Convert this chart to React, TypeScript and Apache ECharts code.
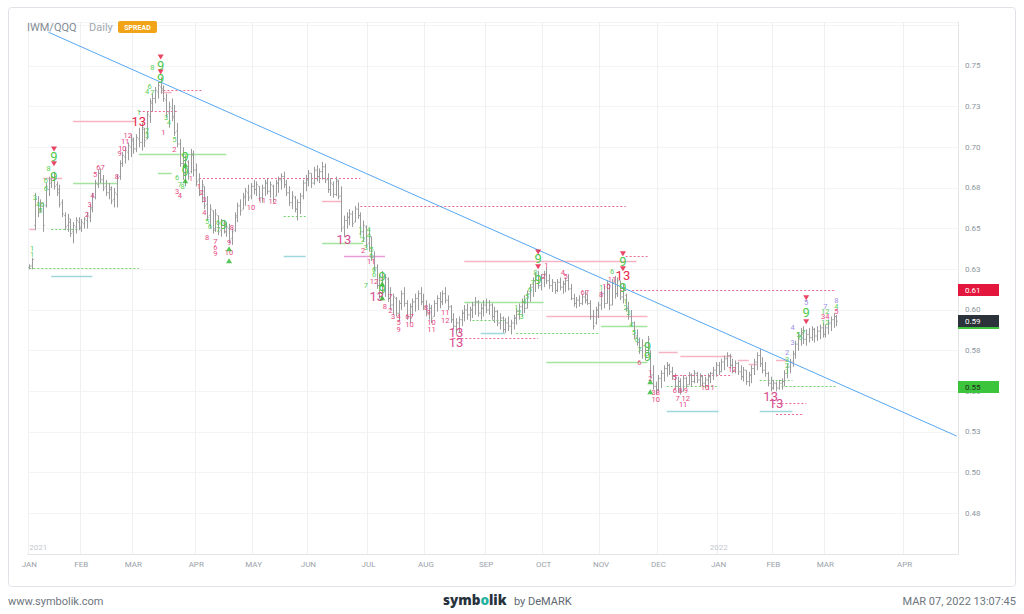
import React, { useEffect, useRef } from 'react';
import * as echarts from 'echarts';

// ---------- OHLC data [open, high, low, close] by month ----------
const jan21 = [
  [0.626,0.628,0.625,0.627],[0.627,0.632,0.625,0.631],[0.652,0.672,0.649,0.668],[0.666,0.670,0.657,0.660],
  [0.661,0.668,0.660,0.666],[0.664,0.666,0.648,0.652],[0.664,0.678,0.663,0.676],[0.674,0.682,0.670,0.680],
  [0.678,0.684,0.675,0.682],[0.680,0.685,0.674,0.676],[0.677,0.679,0.670,0.672],[0.674,0.677,0.663,0.665],
  [0.666,0.668,0.657,0.659],[0.658,0.660,0.649,0.651],[0.652,0.659,0.648,0.656],[0.654,0.656,0.645,0.647],
  [0.648,0.654,0.641,0.652],[0.651,0.657,0.647,0.655],[0.654,0.657,0.649,0.650]];
const feb21 = [
  [0.651,0.656,0.648,0.654],[0.653,0.657,0.650,0.656],[0.655,0.660,0.650,0.658],[0.657,0.665,0.654,0.663],
  [0.662,0.672,0.660,0.670],[0.669,0.680,0.668,0.678],[0.677,0.686,0.675,0.684],[0.684,0.687,0.678,0.680],
  [0.680,0.683,0.673,0.675],[0.676,0.680,0.670,0.672],[0.672,0.678,0.668,0.675],[0.674,0.676,0.665,0.667],
  [0.668,0.675,0.663,0.672],[0.671,0.683,0.663,0.681],[0.682,0.692,0.680,0.690],[0.690,0.697,0.688,0.695],
  [0.694,0.700,0.690,0.698],[0.697,0.703,0.692,0.701],[0.700,0.708,0.694,0.705]];
const mar21 = [
  [0.704,0.706,0.696,0.699],[0.699,0.708,0.697,0.706],[0.705,0.712,0.700,0.703],[0.703,0.715,0.698,0.712],
  [0.711,0.712,0.700,0.704],[0.705,0.722,0.705,0.720],[0.719,0.730,0.715,0.728],[0.727,0.733,0.722,0.730],
  [0.730,0.737,0.727,0.735],[0.734,0.740,0.730,0.738],[0.737,0.743,0.733,0.736],[0.735,0.738,0.728,0.730],
  [0.729,0.733,0.718,0.720],[0.721,0.728,0.712,0.725],[0.724,0.730,0.716,0.718],[0.719,0.726,0.707,0.709],
  [0.710,0.715,0.700,0.702],[0.702,0.705,0.688,0.690],[0.690,0.700,0.680,0.683],[0.684,0.695,0.676,0.692],
  [0.691,0.692,0.680,0.684],[0.685,0.699,0.684,0.696],[0.695,0.698,0.682,0.686]];
const apr21 = [
  [0.686,0.690,0.676,0.679],[0.680,0.684,0.670,0.672],[0.673,0.680,0.666,0.677],[0.676,0.676,0.662,0.664],
  [0.665,0.670,0.655,0.657],[0.658,0.665,0.650,0.662],[0.661,0.661,0.647,0.649],[0.650,0.662,0.648,0.659],
  [0.658,0.658,0.646,0.648],[0.649,0.656,0.645,0.654],[0.653,0.655,0.647,0.648],[0.648,0.654,0.645,0.651],
  [0.650,0.653,0.641,0.643],[0.644,0.650,0.640,0.648],[0.649,0.660,0.648,0.658],[0.657,0.666,0.654,0.664],
  [0.664,0.668,0.658,0.661],[0.662,0.672,0.662,0.670],[0.669,0.675,0.664,0.673],[0.672,0.677,0.667,0.669],
  [0.670,0.678,0.668,0.676]];
const may21 = [
  [0.676,0.680,0.671,0.674],[0.674,0.679,0.670,0.677],[0.676,0.676,0.667,0.669],[0.669,0.677,0.666,0.675],
  [0.675,0.680,0.670,0.678],[0.678,0.681,0.671,0.673],[0.673,0.679,0.669,0.677],[0.676,0.677,0.666,0.668],
  [0.670,0.680,0.670,0.678],[0.678,0.682,0.672,0.680],[0.680,0.684,0.674,0.682],[0.682,0.685,0.675,0.677],
  [0.677,0.680,0.670,0.672],[0.672,0.676,0.664,0.666],[0.666,0.673,0.662,0.670],[0.669,0.670,0.660,0.662],
  [0.662,0.668,0.655,0.666],[0.666,0.672,0.659,0.670],[0.670,0.680,0.668,0.678],[0.678,0.683,0.673,0.680]];
const jun21 = [
  [0.680,0.686,0.676,0.684],[0.684,0.684,0.675,0.678],[0.678,0.688,0.677,0.686],[0.686,0.689,0.679,0.682],
  [0.682,0.687,0.678,0.685],[0.685,0.691,0.680,0.688],[0.688,0.690,0.678,0.680],[0.680,0.684,0.672,0.674],
  [0.674,0.681,0.670,0.678],[0.677,0.679,0.669,0.671],[0.671,0.682,0.670,0.680],[0.679,0.680,0.668,0.670],
  [0.670,0.676,0.648,0.650],[0.651,0.658,0.645,0.655],[0.655,0.660,0.650,0.657],[0.657,0.662,0.652,0.659],
  [0.659,0.661,0.651,0.653],[0.654,0.664,0.654,0.662],[0.662,0.666,0.656,0.658],[0.658,0.660,0.646,0.648],
  [0.648,0.655,0.642,0.652],[0.651,0.652,0.638,0.640]];
const jul21 = [
  [0.641,0.650,0.636,0.646],[0.645,0.645,0.630,0.632],[0.632,0.636,0.624,0.626],[0.626,0.628,0.613,0.615],
  [0.615,0.622,0.607,0.619],[0.619,0.624,0.610,0.612],[0.612,0.622,0.608,0.620],[0.619,0.620,0.605,0.607],
  [0.607,0.614,0.600,0.603],[0.603,0.610,0.597,0.608],[0.607,0.608,0.596,0.598],[0.598,0.606,0.593,0.604],
  [0.604,0.612,0.600,0.610],[0.610,0.614,0.602,0.604],[0.604,0.606,0.594,0.596],[0.596,0.604,0.592,0.602],
  [0.602,0.607,0.596,0.605],[0.605,0.610,0.599,0.607],[0.607,0.612,0.600,0.610],[0.610,0.614,0.603,0.605],
  [0.605,0.610,0.600,0.602]];
const aug21 = [
  [0.602,0.606,0.596,0.598],[0.598,0.604,0.594,0.601],[0.601,0.603,0.592,0.595],[0.596,0.606,0.596,0.604],
  [0.604,0.609,0.599,0.607],[0.607,0.611,0.601,0.605],[0.605,0.612,0.603,0.610],[0.610,0.614,0.604,0.606],
  [0.606,0.609,0.600,0.602],[0.602,0.603,0.592,0.594],[0.594,0.598,0.588,0.590],[0.590,0.595,0.585,0.592],
  [0.592,0.596,0.586,0.594],[0.594,0.600,0.590,0.598],[0.598,0.603,0.593,0.600],[0.600,0.604,0.594,0.597],
  [0.597,0.602,0.593,0.600],[0.600,0.605,0.595,0.603],[0.603,0.608,0.597,0.605],[0.605,0.606,0.596,0.598],
  [0.598,0.604,0.594,0.601],[0.601,0.606,0.596,0.603]];
const sep21 = [
  [0.603,0.607,0.598,0.600],[0.600,0.606,0.597,0.603],[0.603,0.604,0.594,0.596],[0.596,0.602,0.592,0.599],
  [0.599,0.600,0.590,0.592],[0.592,0.598,0.588,0.595],[0.595,0.596,0.586,0.588],[0.588,0.595,0.586,0.592],
  [0.592,0.596,0.587,0.590],[0.590,0.594,0.585,0.592],[0.592,0.597,0.588,0.595],[0.595,0.601,0.591,0.599],
  [0.599,0.604,0.594,0.602],[0.602,0.607,0.596,0.605],[0.605,0.609,0.598,0.601],[0.601,0.612,0.601,0.610],
  [0.610,0.616,0.605,0.614],[0.614,0.620,0.608,0.618],[0.618,0.623,0.611,0.621],[0.621,0.624,0.613,0.615],
  [0.615,0.622,0.612,0.620]];
const oct21 = [
  [0.620,0.624,0.614,0.622],[0.622,0.626,0.616,0.618],[0.618,0.622,0.613,0.615],[0.615,0.619,0.611,0.617],
  [0.617,0.617,0.610,0.612],[0.612,0.619,0.611,0.617],[0.617,0.620,0.612,0.614],[0.614,0.618,0.610,0.616],
  [0.616,0.620,0.611,0.618],[0.618,0.622,0.612,0.613],[0.613,0.616,0.606,0.607],[0.607,0.610,0.602,0.604],
  [0.604,0.608,0.601,0.606],[0.606,0.609,0.602,0.604],[0.604,0.610,0.603,0.608],[0.608,0.612,0.604,0.606],
  [0.606,0.610,0.603,0.604],[0.604,0.606,0.594,0.596],[0.596,0.600,0.588,0.590],[0.592,0.602,0.591,0.600],
  [0.600,0.605,0.595,0.603]];
const nov21 = [
  [0.603,0.612,0.600,0.610],[0.610,0.615,0.601,0.604],[0.604,0.618,0.604,0.616],[0.616,0.616,0.600,0.603],
  [0.603,0.619,0.603,0.617],[0.617,0.621,0.607,0.610],[0.610,0.620,0.608,0.618],[0.618,0.618,0.606,0.608],
  [0.608,0.616,0.604,0.612],[0.609,0.610,0.599,0.601],[0.601,0.605,0.594,0.596],[0.596,0.600,0.590,0.592],
  [0.592,0.593,0.582,0.584],[0.584,0.588,0.578,0.580],[0.580,0.583,0.573,0.575],[0.575,0.582,0.570,0.578],
  [0.578,0.580,0.569,0.572],[0.572,0.584,0.572,0.582],[0.575,0.575,0.558,0.560],[0.560,0.566,0.551,0.553],
  [0.553,0.556,0.548,0.551]];
const dec21 = [
  [0.551,0.560,0.550,0.558],[0.558,0.563,0.552,0.561],[0.561,0.566,0.556,0.564],[0.564,0.568,0.559,0.566],
  [0.566,0.567,0.560,0.562],[0.562,0.565,0.557,0.559],[0.559,0.561,0.551,0.553],[0.553,0.559,0.549,0.556],
  [0.556,0.558,0.548,0.550],[0.550,0.560,0.550,0.558],[0.558,0.559,0.552,0.554],[0.554,0.562,0.554,0.560],
  [0.560,0.561,0.553,0.556],[0.556,0.563,0.555,0.561],[0.561,0.562,0.555,0.557],[0.557,0.561,0.553,0.559],
  [0.559,0.560,0.553,0.555],[0.555,0.559,0.552,0.557],[0.557,0.561,0.554,0.559],[0.559,0.562,0.555,0.561],
  [0.561,0.565,0.557,0.563],[0.563,0.568,0.559,0.566]];
const jan22 = [
  [0.566,0.568,0.560,0.562],[0.562,0.570,0.562,0.568],[0.568,0.572,0.563,0.570],[0.570,0.574,0.565,0.572],
  [0.572,0.573,0.564,0.566],[0.566,0.570,0.561,0.563],[0.563,0.569,0.561,0.567],[0.567,0.568,0.560,0.562],
  [0.562,0.566,0.557,0.559],[0.559,0.565,0.556,0.563],[0.563,0.563,0.554,0.556],[0.556,0.562,0.553,0.560],
  [0.560,0.566,0.555,0.564],[0.564,0.570,0.560,0.568],[0.568,0.574,0.563,0.572],[0.572,0.576,0.565,0.567],
  [0.567,0.571,0.561,0.563],[0.563,0.568,0.559,0.561],[0.561,0.562,0.553,0.555],[0.555,0.559,0.550,0.552]];
const feb22 = [
  [0.552,0.557,0.551,0.555],[0.555,0.556,0.550,0.552],[0.552,0.557,0.551,0.555],[0.555,0.558,0.551,0.556],
  [0.556,0.563,0.553,0.561],[0.561,0.567,0.558,0.565],[0.565,0.570,0.561,0.568],[0.568,0.575,0.565,0.573],
  [0.573,0.581,0.570,0.579],[0.579,0.586,0.575,0.584],[0.584,0.589,0.578,0.586],[0.586,0.590,0.579,0.582],
  [0.582,0.588,0.578,0.585],[0.585,0.589,0.580,0.583],[0.583,0.590,0.581,0.588],[0.588,0.589,0.580,0.584],
  [0.584,0.590,0.581,0.587],[0.587,0.591,0.582,0.589],[0.589,0.592,0.583,0.585]];
const mar22 = [
  [0.585,0.591,0.583,0.589],[0.589,0.594,0.585,0.592],[0.592,0.596,0.587,0.594],[0.594,0.598,0.589,0.596],
  [0.596,0.597,0.590,0.593]];

const bars = [...jan21, ...feb21, ...mar21, ...apr21, ...may21, ...jun21, ...jul21, ...aug21,
  ...sep21, ...oct21, ...nov21, ...dec21, ...jan22, ...feb22, ...mar22];

// ---------- axis domain ----------
const HOLIDAYS = ['2021-01-18','2021-02-15','2021-04-02','2021-05-31','2021-07-05','2021-09-06',
  '2021-11-25','2021-12-24','2022-01-17','2022-02-21'];
const FIRST_DAY = '2021-01-04';
const LAST_BAR_DAY = '2022-03-07';
const AXIS_END_DAY = '2022-04-20';
const MONTHS = ['JAN','FEB','MAR','APR','MAY','JUN','JUL','AUG','SEP','OCT','NOV','DEC'];
const Y_TICKS = { min: 0.45, max: 0.777, step: 0.025 };

// ---------- trendline [barIndex, value] ----------
const trendline = [[7, 0.7707], [339, 0.5225]];

// ---------- price tags on the axis ----------
const priceTags = [
  { value: 0.6121, text: '0.61', bg: '#e3173e', fg: '#ffffff' },
  { value: 0.5918, text: '0.59', bg: '#3cc43c', fg: '#ffffff' },
  { value: 0.5930, text: '0.59', bg: '#2b3239', fg: '#ffffff' },
  { value: 0.5528, text: '0.55', bg: '#3cc43c', fg: '#1d2b1d' },
];

// ---------- horizontal levels [fromIndex, toIndex, value, kind] ----------
const levels = [
  [0,40,0.626,'gd'],[8,23,0.621,'cs'],[0,2,0.650,'ps'],[8,18,0.650,'gd'],[5,12,0.681,'ps'],
  [16,32,0.678,'gs'],[16,39,0.716,'ps'],[40,54,0.722,'rd'],[48,52,0.734,'ps'],[49,63,0.735,'rd'],
  [40,72,0.696,'gs'],[47,52,0.684,'gs'],[62,121,0.681,'rd'],[107,114,0.667,'ps'],[107,122,0.641,'gs'],
  [93,101,0.658,'gd'],[93,101,0.633,'cs'],[121,218,0.664,'rd'],[115,130,0.633,'ms'],[159,222,0.630,'ps'],
  [159,188,0.605,'gs'],[165,174,0.586,'cs'],[178,208,0.586,'gd'],[155,186,0.583,'rd'],[162,174,0.594,'gd'],
  [189,226,0.568,'gs'],[189,226,0.596,'ps'],[209,226,0.590,'gs'],[218,226,0.633,'rd'],[216,295,0.612,'rd'],
  [230,237,0.574,'ps'],[238,257,0.572,'ps'],[235,257,0.560,'rd'],[233,252,0.553,'gd'],[233,252,0.538,'cs'],
  [259,263,0.569,'ps'],[263,266,0.567,'ps'],[273,277,0.569,'ps'],[275,295,0.553,'gd'],[267,279,0.557,'gd'],
  [272,284,0.543,'rd'],[267,279,0.538,'cs'],[273,283,0.536,'rd']];

// ---------- TD labels [barIndex, value, text] ----------
const greenNines = [
  [9,0.6941,'9'],[9,0.6818,'9'],[48,0.7500,'9'],[48,0.7420,'9'],[57,0.6941,'9'],[57,0.6849,'9'],
  [71,0.6523,'9'],[129,0.6204,'9'],[129,0.6124,'9'],[186,0.6314,'9'],[186,0.6186,'9'],
  [217,0.6296,'9'],[217,0.6140,'9'],[226,0.5774,'9'],[226,0.5713,'9'],[284,0.5983,'9']];
const redThirteens = [[40,0.7156,'13'],[217,0.6210,'13']];
const pinkThirteens = [[115,0.6431,'13'],[127,0.6081,'13'],[156,0.5860,'13'],[156,0.5799,'13'],
  [271,0.5467,'13'],[273,0.5424,'13']];
const greenCounts = [
  [1,0.6376,'1'],[1,0.6339,'1'],[2,0.669,'3'],[4,0.665,'46'],[4,0.661,'5'],[6,0.6795,'6'],[6,0.6745,'6'],[7,0.687,'8'],
  [40,0.7211,'1'],[43,0.7105,'2'],[43,0.7070,'3'],[43,0.734,'4'],[44,0.7375,'6'],[45,0.7334,'7'],[45,0.7488,'8'],
  [50,0.7181,'3'],[51,0.715,'4'],[53,0.7045,'5'],[54,0.6812,'6'],[55,0.6769,'7'],[56,0.6757,'8'],
  [65,0.6542,'5'],[66,0.6511,'6'],[69,0.6536,'6'],[69,0.6493,'7'],
  [121,0.6493,'1'],[121,0.6456,'1'],[124,0.6493,'4'],[124,0.6456,'4'],[122,0.6431,'2'],[123,0.6382,'3'],
  [125,0.637,'5'],[125,0.6333,'6'],[126,0.6247,'6'],[126,0.6216,'6'],[123,0.6150,'7'],
  [178,0.6014,'1'],[179,0.5983,'2'],[180,0.5958,'3'],[181,0.605,'4'],[182,0.6081,'5'],[183,0.6124,'6'],
  [184,0.6167,'7'],[185,0.6229,'8'],
  [209,0.6136,'1'],[213,0.6235,'6'],[218,0.605,'1'],[218,0.6014,'2'],[219,0.5983,'3'],[220,0.5909,'4'],
  [221,0.586,'5'],[222,0.5817,'6'],[223,0.5756,'7'],
  [277,0.562,'1'],[277,0.5657,'2'],[277,0.5694,'3'],[281,0.5848,'5'],[282,0.5829,'6'],[283,0.586,'7'],
  [295,0.602,'4'],[291,0.5989,'12'],[291,0.5921,'12']];
const pinkCounts = [
  [21,0.6585,'2'],[22,0.6646,'3'],[23,0.6701,'4'],[24,0.683,'5'],[26,0.6875,'67'],[32,0.6818,'8'],
  [33,0.6959,'9'],[34,0.699,'10'],[35,0.7033,'11'],[36,0.707,'12'],
  [49,0.7088,'1'],[53,0.6984,'2'],[54,0.6726,'3'],[55,0.6701,'4'],[59,0.6806,'1'],
  [62,0.6757,'1'],[63,0.672,'2'],[64,0.6677,'3'],[64,0.6597,'4'],[65,0.6444,'8'],[68,0.6419,'7'],
  [68,0.6382,'6'],[68,0.6345,'9'],[74,0.6505,'8'],[73,0.6413,'9'],[73,0.6351,'10'],
  [81,0.6628,'10'],[85,0.6671,'11'],[89,0.6665,'12'],
  [122,0.6364,'2'],[125,0.6296,'11'],[126,0.6173,'12'],[132,0.6081,'7'],[130,0.6020,'8'],[132,0.5995,'2'],
  [133,0.5960,'3'],[135,0.5960,'4'],[135,0.5921,'5'],[135,0.5878,'9'],[139,0.5958,'67'],[139,0.5909,'10'],
  [145,0.6014,'8'],[146,0.5983,'9'],[147,0.5921,'10'],[147,0.5878,'11'],[152,0.5983,'11'],[152,0.5935,'12'],
  [189,0.6271,'1'],[188,0.6204,'2'],[195,0.6229,'4'],[196,0.6204,'5'],[203,0.6106,'67'],
  [209,0.6093,'8'],[211,0.6142,'10'],[213,0.6185,'11'],[223,0.5676,'6'],
  [227,0.5614,'1'],[227,0.5577,'2'],[229,0.5491,'38'],[229,0.5448,'10'],[236,0.5584,'5'],[236,0.5504,'6'],
  [238,0.5504,'8'],[240,0.5504,'9'],[237,0.5455,'7'],[240,0.5455,'12'],[239,0.5418,'11'],
  [247,0.5522,'10'],[249,0.5522,'11'],[257,0.5633,'12'],[295,0.5989,'5'],[291,0.5958,'34']];
const purpleCounts = [[277,0.5737,'2'],[279,0.5799,'3'],[279,0.5891,'4'],[284,0.6045,'5'],[291,0.602,'7'],[295,0.6057,'8']];
const downArrows = [[9,0.699],[9,0.6898],[48,0.7555],[48,0.7463],[186,0.6357],[186,0.6265],[217,0.6345],
  [217,0.6253],[284,0.6075],[284,0.5928]];
const upArrows = [[57,0.6892],[57,0.6794],[73,0.6376],[73,0.6302],[129,0.6161],[129,0.6075],[227,0.5559],[227,0.5498]];

const LEVEL_STYLE: Record<string, { color: string; w: number; dash: number[] | null }> = {
  ps: { color: '#f6b3c3', w: 1.5, dash: null },
  ms: { color: '#e99bd6', w: 1.5, dash: null },
  rd: { color: '#ee6a90', w: 1, dash: [2, 2] },
  gs: { color: '#a5e3a0', w: 1.5, dash: null },
  gd: { color: '#6fd46a', w: 1, dash: [2, 2] },
  cs: { color: '#9fd7dc', w: 1.5, dash: null },
};

function buildDates(): string[] {
  const out: string[] = [];
  const [y, m, d] = FIRST_DAY.split('-').map(Number);
  const cur = new Date(Date.UTC(y, m - 1, d));
  for (;;) {
    const s = cur.toISOString().slice(0, 10);
    if (s > AXIS_END_DAY) break;
    const wd = cur.getUTCDay();
    if (s <= LAST_BAR_DAY) {
      if (wd !== 0 && wd !== 6 && !HOLIDAYS.includes(s)) out.push(s);
    } else out.push(s);
    cur.setUTCDate(cur.getUTCDate() + 1);
  }
  return out;
}

const FONT = 'Roboto, "Open Sans", sans-serif';

function textSeries(name: string, items: any[], color: string, size: number, weight = 'normal') {
  return {
    type: 'custom', name, z: 6, silent: true,
    data: items.map((d) => [d[0], d[1]]),
    encode: { x: 0, y: 1 },
    renderItem: (params: any, api: any) => {
      const p = api.coord([api.value(0), api.value(1)]);
      return {
        type: 'text', x: p[0], y: p[1],
        style: {
          text: items[params.dataIndex][2], fill: color,
          font: `${weight} ${size}px ${FONT}`,
          align: 'center', verticalAlign: 'middle', textAlign: 'center', textVerticalAlign: 'middle',
        },
      };
    },
  };
}

export default function App() {
  const ref = useRef<HTMLDivElement>(null);
  useEffect(() => {
    if (!ref.current) return;
    const chart = echarts.init(ref.current, undefined, { renderer: 'svg' });
    const dates = buildDates();
    const isMonthStart = dates.map((s, i) => i === 0 || s.slice(5, 7) !== dates[i - 1].slice(5, 7));
    const isYearStart = dates.map((s, i) => i === 0 || s.slice(0, 4) !== dates[i - 1].slice(0, 4));
    const fmtY = (v: number) => {
      if (v > 0.76) return '';
      const n = Math.round(Math.round(v * 1000) / 10);
      return (n / 100).toFixed(2);
    };

    const option: any = {
      animation: false,
      backgroundColor: '#ffffff',
      textStyle: { fontFamily: FONT },
      grid: { left: 28, right: 66, top: 22, bottom: 60 },
      xAxis: [
        {
          type: 'category', data: dates, boundaryGap: true, position: 'bottom',
          axisLine: { lineStyle: { color: '#e1e5e8' } },
          axisTick: { show: false },
          axisLabel: {
            interval: (i: number) => isMonthStart[i], color: '#9aa2aa', fontSize: 8, margin: 6,
            formatter: (v: string) => MONTHS[Number(v.slice(5, 7)) - 1],
          },
          splitLine: { show: true, interval: (i: number) => isMonthStart[i], lineStyle: { color: '#eef1f3', width: 1 } },
        },
        {
          type: 'category', data: dates, boundaryGap: true, position: 'bottom',
          axisLine: { show: false }, axisTick: { show: false }, splitLine: { show: false },
          axisLabel: {
            inside: true, interval: (i: number) => isYearStart[i], color: '#c3c9ce', fontSize: 8, margin: 3,
            alignMinLabel: 'left', formatter: (v: string) => v.slice(0, 4),
          },
        },
      ],
      yAxis: {
        type: 'value', position: 'right', min: Y_TICKS.min, max: Y_TICKS.max, interval: Y_TICKS.step,
        axisLine: { show: true, lineStyle: { color: '#e1e5e8' } },
        axisTick: { show: false },
        axisLabel: { color: '#8e969d', fontSize: 8, margin: 7, showMinLabel: false, showMaxLabel: false, formatter: fmtY },
        splitLine: { show: true, lineStyle: { color: '#f2f4f6' } },
      },
      series: [
        {
          type: 'custom', name: 'levels', z: 2, silent: true,
          data: levels.map((l) => [l[0], l[1], l[2]]),
          encode: { x: [0, 1], y: 2 },
          renderItem: (params: any, api: any) => {
            const a = api.coord([api.value(0), api.value(2)]);
            const b = api.coord([api.value(1), api.value(2)]);
            const st = LEVEL_STYLE[levels[params.dataIndex][3] as string];
            const y = Math.round(a[1]) + 0.5;
            return {
              type: 'line', shape: { x1: a[0], y1: y, x2: b[0], y2: y },
              style: { stroke: st.color, lineWidth: st.w, lineDash: st.dash || undefined },
            };
          },
        },
        {
          type: 'custom', name: 'IWM/QQQ', z: 3, silent: true,
          data: bars.map((b, i) => [i, b[0], b[1], b[2], b[3]]),
          encode: { x: 0, y: [1, 2, 3, 4] },
          renderItem: (params: any, api: any) => {
            const i = api.value(0);
            const pH = api.coord([i, api.value(2)]);
            const pL = api.coord([i, api.value(3)]);
            const pO = api.coord([i, api.value(1)]);
            const pC = api.coord([i, api.value(4)]);
            const x = Math.round(pH[0]) + 0.5;
            const style = { stroke: '#9b9b9b', lineWidth: 1 };
            return {
              type: 'group',
              children: [
                { type: 'line', shape: { x1: x, y1: pH[1], x2: x, y2: pL[1] }, style },
                { type: 'line', shape: { x1: x - 1.2, y1: pO[1], x2: x, y2: pO[1] }, style },
                { type: 'line', shape: { x1: x, y1: pC[1], x2: x + 1.2, y2: pC[1] }, style },
              ],
            };
          },
        },
        {
          type: 'line', name: 'trend', z: 4, silent: true, symbol: 'none',
          data: trendline, lineStyle: { color: '#56a7f2', width: 1 },
        },
        textSeries('greenCounts', greenCounts, '#58cf58', 7.5),
        textSeries('pinkCounts', pinkCounts, '#e6497f', 7.5),
        textSeries('purpleCounts', purpleCounts, '#9d90e6', 7.5),
        textSeries('greenNines', greenNines, '#4cc94c', 13),
        textSeries('redThirteens', redThirteens, '#e5284f', 13),
        textSeries('pinkThirteens', pinkThirteens, '#d84b8f', 13),
        {
          type: 'scatter', name: 'down', z: 6, silent: true, symbol: 'triangle', symbolRotate: 180,
          symbolSize: [6, 5], itemStyle: { color: '#e3173e' }, data: downArrows,
        },
        {
          type: 'scatter', name: 'up', z: 6, silent: true, symbol: 'triangle',
          symbolSize: [6, 5], itemStyle: { color: '#2fb82f' }, data: upArrows,
        },
        {
          type: 'custom', name: 'priceTags', z: 8, silent: true,
          data: priceTags.map((t) => [0, t.value]),
          encode: { x: 0, y: 1 },
          renderItem: (params: any, api: any) => {
            const cs = params.coordSys;
            const p = api.coord([0, api.value(1)]);
            const t = priceTags[params.dataIndex];
            const x0 = cs.x + cs.width;
            const yc = Math.round(p[1]);
            return {
              type: 'group',
              children: [
                { type: 'rect', shape: { x: x0, y: yc - 6, width: 41, height: 12 }, style: { fill: t.bg } },
                { type: 'text', x: x0 + 7, y: yc + 0.5, style: {
                  text: t.text, fill: t.fg, font: `8px ${FONT}`,
                  verticalAlign: 'middle', textVerticalAlign: 'middle' } },
              ],
            };
          },
        },
      ],
      graphic: [
        { type: 'rect', z: -10, silent: true, shape: { x: 8.5, y: 7.5, width: 1007, height: 579, r: 3 },
          style: { fill: 'none', stroke: '#dfe3e7', lineWidth: 1 } },
        { type: 'text', z: 10, x: 27, y: 27, style: { text: 'IWM/QQQ', fill: '#838c95', font: `11px ${FONT}`, verticalAlign: 'middle', textVerticalAlign: 'middle' } },
        { type: 'text', z: 10, x: 89, y: 27, style: { text: 'Daily', fill: '#a1a8af', font: `11px ${FONT}`, verticalAlign: 'middle', textVerticalAlign: 'middle' } },
        { type: 'rect', z: 10, shape: { x: 118, y: 21, width: 39, height: 12, r: 2 }, style: { fill: '#f1a417' } },
        { type: 'text', z: 11, x: 137.5, y: 27.5, style: { text: 'SPREAD', fill: '#ffffff', font: `bold 7px ${FONT}`, align: 'center', textAlign: 'center', verticalAlign: 'middle', textVerticalAlign: 'middle' } },
        { type: 'text', x: 8, y: 601, style: { text: 'www.symbolik.com', fill: '#6d7680', font: `11px ${FONT}`, verticalAlign: 'middle', textVerticalAlign: 'middle' } },
        { type: 'text', x: 443, y: 600, style: {
          text: '{a|symb}{o|o}{a|lik}', verticalAlign: 'middle', textVerticalAlign: 'middle',
          rich: {
            a: { fill: '#27323d', color: '#27323d', font: `900 13.5px "Open Sans", ${FONT}` },
            o: { fill: '#27b3a4', color: '#27b3a4', font: `900 13.5px "Open Sans", ${FONT}` },
          } } },
        { type: 'text', x: 514, y: 601, style: { text: 'by DeMARK', fill: '#5e6770', font: `11px ${FONT}`, verticalAlign: 'middle', textVerticalAlign: 'middle' } },
        { type: 'text', x: 1016, y: 601, style: { text: 'MAR 07, 2022 13:07:45', fill: '#6d7680', font: `11px ${FONT}`, align: 'right', textAlign: 'right', verticalAlign: 'middle', textVerticalAlign: 'middle' } },
      ],
    };
    chart.setOption(option);
    return () => chart.dispose();
  }, []);
  return <div ref={ref} style={{ position: 'absolute', left: 0, top: 0, width: 1024, height: 614, background: '#fff' }} />;
}
